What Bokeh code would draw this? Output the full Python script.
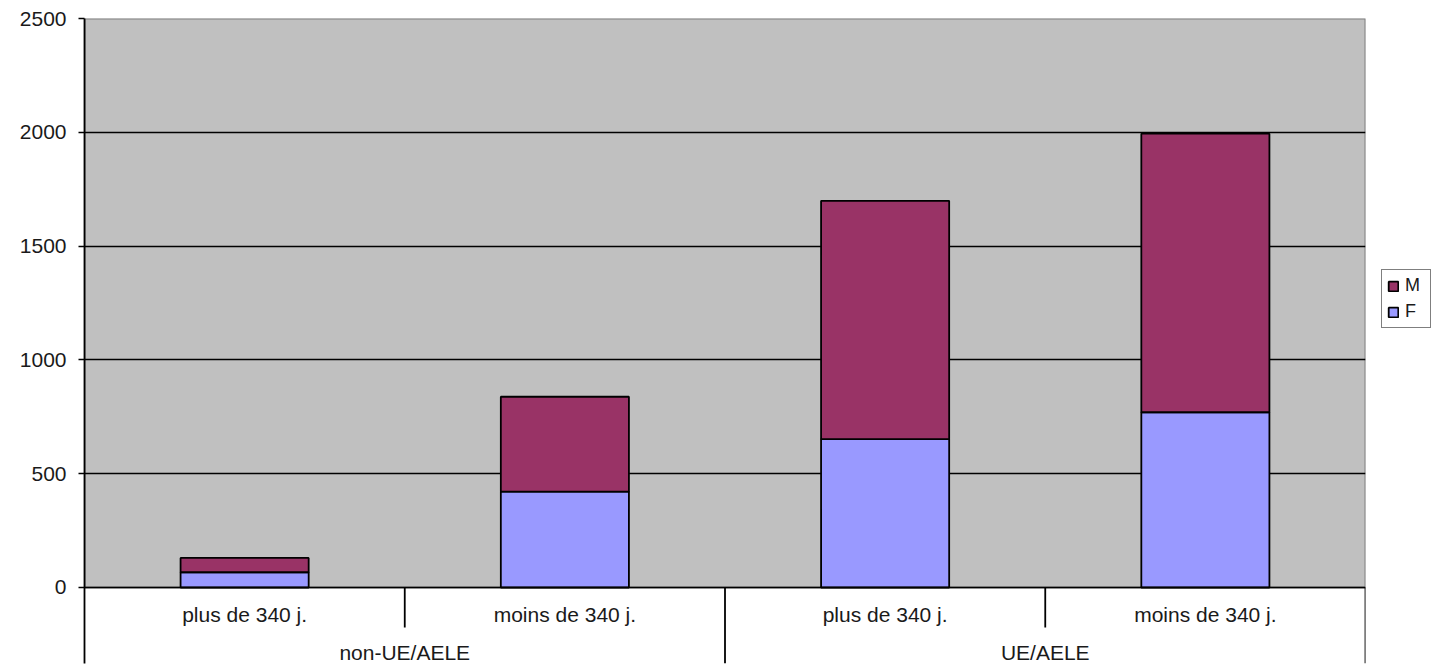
from bokeh.plotting import figure
from bokeh.models import Range1d, FixedTicker, Legend, LegendItem, ColumnDataSource
from bokeh.core.properties import value
from bokeh.embed import file_html
from bokeh.resources import INLINE

# ---- data ----
sub_labels = ["plus de 340 j.", "moins de 340 j.", "plus de 340 j.", "moins de 340 j."]
groups = ["non-UE/AELE", "UE/AELE"]
F = [67, 421, 652, 770]
M = [63, 417, 1047, 1224]
y_ticks = [0, 500, 1000, 1500, 2000, 2500]

FONT = value("Liberation Sans")
n = len(sub_labels)
xs = [i + 0.5 for i in range(n)]
gx = [2 * i + 1 for i in range(len(groups))]

p = figure(frame_width=1281, frame_height=645, min_border_left=84, min_border_top=18,
           min_border_bottom=2, min_border_right=0,
           x_range=Range1d(0, n), y_range=Range1d(-334, 2500),
           output_backend="svg", toolbar_location=None)
p.outline_line_color = None
p.background_fill_color = "white"
p.xgrid.visible = False
p.ygrid.visible = False
p.xaxis.visible = False

# plot area
p.quad(left=[0], right=[n], bottom=[0], top=[y_ticks[-1]],
       fill_color="#C0C0C0", line_color="#808080", line_width=2)
p.hspan(y=y_ticks[1:-1], line_color="black", line_width=1.3)

src = ColumnDataSource(dict(x=xs, F=F, M=M))
r = p.vbar_stack(["F", "M"], x="x", width=0.4, source=src,
                 color=["#9999FF", "#993366"], line_color="black", line_width=1.8)

# baseline
p.segment(x0=[0], x1=[n], y0=[0], y1=[0], line_color="black", line_width=1.5)

# category labels
p.text(x=xs, y=[-118] * n, text=sub_labels, text_align="center", text_baseline="middle",
       text_font=FONT, text_font_size="21px", text_color="#1a1a1a")
p.text(x=gx, y=[-284] * len(groups), text=groups, text_align="center", text_baseline="middle",
       text_font=FONT, text_font_size="21px", text_color="#1a1a1a")

# separators
short_x = [2 * i + 1 for i in range(len(groups))]
long_x = [2 * (i + 1) for i in range(len(groups))]
p.segment(x0=short_x, x1=short_x, y0=[0] * len(short_x), y1=[-176] * len(short_x),
          line_color="black", line_width=1.8)
p.segment(x0=long_x, x1=long_x, y0=[0] * len(long_x), y1=[-334] * len(long_x),
          line_color="black", line_width=1.8)

# y axis
p.yaxis.ticker = FixedTicker(ticks=y_ticks)
p.yaxis.minor_tick_line_color = None
p.yaxis.major_tick_out = 6
p.yaxis.major_tick_in = 0
p.yaxis.axis_line_color = "black"
p.yaxis.axis_line_width = 1.8
p.yaxis.major_tick_line_color = "black"
p.yaxis.major_tick_line_width = 1.5
p.yaxis.major_label_text_font = "Liberation Sans"
p.yaxis.major_label_text_font_size = "21px"
p.yaxis.major_label_text_color = "#1a1a1a"
p.yaxis.major_label_standoff = 12

legend = Legend(items=[LegendItem(label="M", renderers=[r[1]]),
                       LegendItem(label="F", renderers=[r[0]])],
                location=(16, 335), border_line_color="black", border_line_width=1.5,
                label_text_font="Liberation Sans", label_text_font_size="18px",
                label_text_color="#1a1a1a",
                glyph_width=12, glyph_height=12, label_height=18, spacing=5,
                padding=5, margin=0, label_standoff=6, background_fill_color="white")
p.add_layout(legend, "right")

open("out.html", "w").write(file_html(p, INLINE))
